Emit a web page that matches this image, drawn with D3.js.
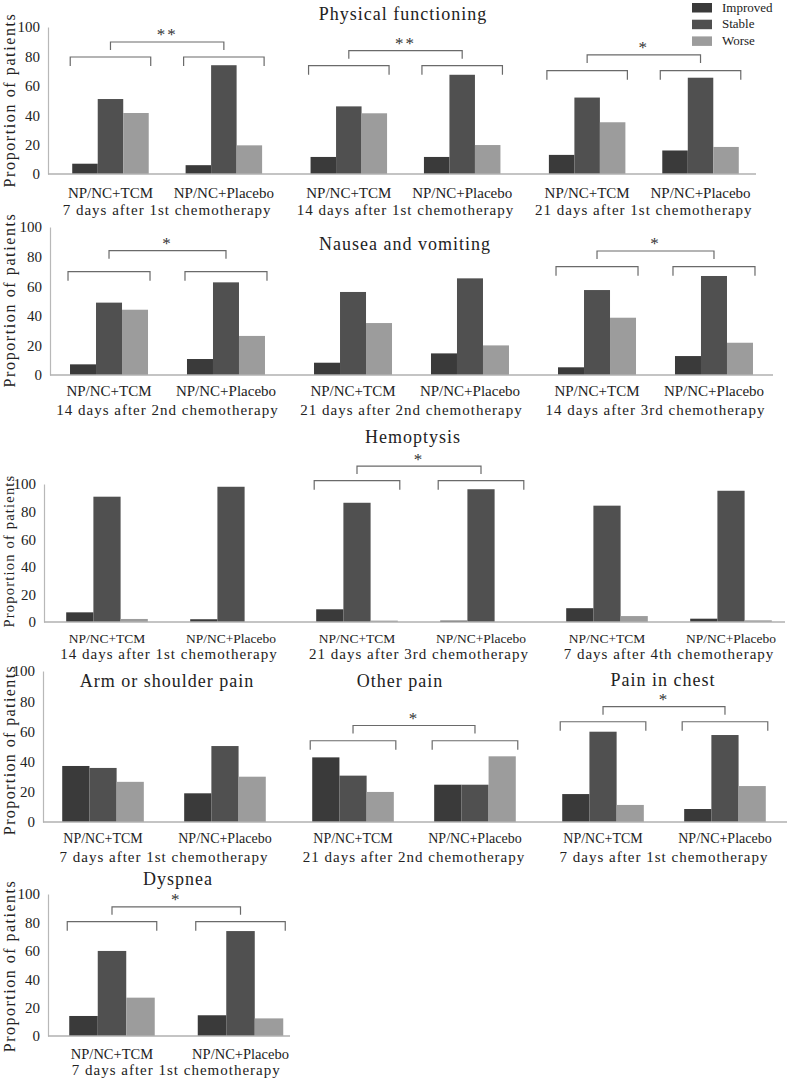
<!DOCTYPE html>
<html><head><meta charset="utf-8">
<script src="https://cdn.jsdelivr.net/npm/d3@7"></script>
<style>
body{margin:0;background:#fff;}
svg{display:block;}
</style></head><body>
<svg id="chart" width="787" height="1078"></svg>
<script>
// ---------- DATA ----------
const series = ["Improved", "Stable", "Worse"];
const groups = ["NP/NC+TCM", "NP/NC+Placebo"];
const yTicks = [0, 20, 40, 60, 80, 100];

// Physical functioning (order: tp1 TCM, tp1 Placebo, tp2 TCM, ...)
const pfTitles = ["Physical functioning"];
const pfTimepoints = ["7 days after 1st chemotherapy", "14 days after 1st chemotherapy", "21 days after 1st chemotherapy"];
const pfImproved = [7, 6, 11.6, 11.6, 13, 16];
const pfStable = [51, 74, 46, 67.5, 52, 65.5];
const pfWorse = [41.5, 19.5, 41.3, 19.7, 35.2, 18.4];
const pfSig = ["**", "**", "*"];

// Nausea and vomiting
const nvTitles = ["Nausea and vomiting"];
const nvTimepoints = ["14 days after 2nd chemotherapy", "21 days after 2nd chemotherapy", "14 days after 3rd chemotherapy"];
const nvImproved = [7.2, 10.8, 8.3, 14.6, 5.2, 12.8];
const nvStable = [48.9, 62.6, 56.1, 65.3, 57.4, 66.9];
const nvWorse = [44.1, 26.4, 35.1, 20, 38.7, 21.8];
const nvSig = ["*", "*"];

// Hemoptysis
const hmTitles = ["Hemoptysis"];
const hmTimepoints = ["14 days after 1st chemotherapy", "21 days after 3rd chemotherapy", "7 days after 4th chemotherapy"];
const hmImproved = [7, 2, 9.2, 1, 10, 2.4];
const hmStable = [90.8, 98, 86.4, 96.2, 84.3, 95.1];
const hmWorse = [2.2, 0, 1, 0, 4.3, 1.2];
const hmSig = ["*"];

// Pain panels
const painTitles = ["Arm or shoulder pain", "Other pain", "Pain in chest"];
const painTimepoints = ["7 days after 1st chemotherapy", "21 days after 2nd chemotherapy", "7 days after 1st chemotherapy"];
const painImproved = [37.1, 19, 42.8, 24.7, 18.5, 8.6];
const painStable = [35.8, 50.3, 30.7, 24.7, 59.8, 57.6];
const painWorse = [26.6, 30, 19.9, 43.5, 11.3, 23.8];
const painSig = ["*", "*"];

// Dyspnea
const dyTitles = ["Dyspnea"];
const dyTimepoints = ["7 days after 1st chemotherapy"];
const dyImproved = [14.1, 14.6];
const dyStable = [59.9, 73.9];
const dyWorse = [27, 12.4];
const dySig = ["*"];

const yLabel = "Proportion of patients";

// ---------- STYLE / LAYOUT ----------
const colors = {Improved: "#3a3a3a", Stable: "#505050", Worse: "#9c9c9c"};
const FONT = "'Liberation Serif','Times New Roman',serif";

const panels = [
  {titles: pfTitles, timepoints: pfTimepoints, improved: pfImproved, stable: pfStable, worse: pfWorse, sig: pfSig,
   L: {x0: 48, x1: 763, pad: 0.551, barW: 25.5, y0: 174, y100: 27, axisX: 48, baseEnd: 756,
       catDy: 24, tpDy: 41, catSize: 15, titlePos: [[403, 20]], ylSize: 16, ylSp: 1.6, ylC: 100,
       brackets: [{tp: 0, low: 79.6, high: 89.8}, {tp: 1, low: 73.7, high: 83.9}, {tp: 2, low: 70.3, high: 81}]}},
  {titles: nvTitles, timepoints: nvTimepoints, improved: nvImproved, stable: nvStable, worse: nvWorse, sig: nvSig,
   L: {x0: 45.5, x1: 777.5, pad: 0.543, barW: 26, y0: 375, y100: 227, axisX: 50, baseEnd: 773,
       catDy: 21, tpDy: 40, catSize: 15, titlePos: [[405, 250]], ylSize: 16, ylSp: 1.6, ylC: 300,
       brackets: [{tp: 0, low: 69.8, high: 84}, {tp: 2, low: 73.2, high: 83.8}]}},
  {titles: hmTitles, timepoints: hmTimepoints, improved: hmImproved, stable: hmStable, worse: hmWorse, sig: hmSig,
   L: {x0: 44, x1: 794, pad: 0.508, barW: 27.2, y0: 622, y100: 484, axisX: 44, baseEnd: 785,
       catDy: 21, tpDy: 37, catSize: 13.5, titlePos: [[413, 443]], ylSize: 14.5, ylSp: 1.2, ylC: 551,
       brackets: [{tp: 1, low: 102.4, high: 113}]}},
  {titles: painTitles, timepoints: painTimepoints, improved: painImproved, stable: painStable, worse: painWorse, sig: painSig,
   L: {x0: 39, x1: 789, pad: 0.525, barW: 27.2, y0: 822, y100: 671, axisX: 43, baseEnd: 787,
       catDy: 21, tpDy: 40, catSize: 14, titlePos: [[167, 687], [400, 687], [663, 686]], ylSize: 16, ylSp: 1.4, ylC: 750,
       brackets: [{tp: 1, low: 53.8, high: 63.9}, {tp: 2, low: 66.4, high: 76.4}]}},
  {titles: dyTitles, timepoints: dyTimepoints, improved: dyImproved, stable: dyStable, worse: dyWorse, sig: dySig,
   L: {x0: 48, x1: 304.5, pad: 0.498, barW: 28.5, y0: 1036, y100: 894, axisX: 48, baseEnd: 290,
       catDy: 23, tpDy: 38.5, catSize: 14.5, titlePos: [[178, 885]], ylSize: 16, ylSp: 1.5, ylC: 966,
       brackets: [{tp: 0, low: 80.5, high: 91}]}}
];

const svg = d3.select("#chart").attr("font-family", FONT);

function drawPanel(p) {
  const L = p.L;
  const g = svg.append("g");
  const y = d3.scaleLinear().domain([0, 100]).range([L.y0, L.y100]);
  const xOuter = d3.scaleBand().domain(p.timepoints.map((d, i) => i)).range([L.x0, L.x1]).padding(0);
  const xInner = d3.scalePoint().domain(groups).range([0, xOuter.bandwidth()]).padding(L.pad);
  const xBar = d3.scaleBand().domain(series).range([-1.5 * L.barW, 1.5 * L.barW]).padding(0);

  const rows = [];
  p.timepoints.forEach((tp, ti) => groups.forEach((gr, gi) => {
    const k = ti * 2 + gi;
    rows.push({ti, gr, cx: xOuter(ti) + xInner(gr),
      vals: [p.improved[k], p.stable[k], p.worse[k]]});
  }));

  // y axis
  const ax = g.append("g").attr("transform", `translate(${L.axisX},0)`)
    .call(d3.axisLeft(y).tickValues(yTicks).tickSize(0).tickPadding(8).tickSizeOuter(0));
  ax.attr("font-family", FONT).attr("font-size", 15);
  ax.select(".domain").attr("stroke", "#b8b8b8").attr("stroke-width", 1.2);
  ax.selectAll("text").attr("fill", "#222");

  // y label
  g.append("text")
    .attr("transform", `translate(9,${L.ylC}) rotate(-90)`)
    .attr("dy", "0.35em")
    .attr("text-anchor", "middle").attr("font-size", L.ylSize).attr("letter-spacing", L.ylSp)
    .attr("fill", "#222").text(yLabel);

  // bars
  const rg = g.selectAll("g.row").data(rows).join("g").attr("class", "row")
    .attr("transform", d => `translate(${d.cx},0)`);
  rg.selectAll("rect").data(d => d.vals.map((v, i) => ({s: series[i], v})))
    .join("rect")
    .attr("x", d => xBar(d.s)).attr("width", xBar.bandwidth())
    .attr("y", d => y(d.v)).attr("height", d => y(0) - y(d.v))
    .attr("fill", d => colors[d.s]);

  // baseline
  g.append("line").attr("x1", L.axisX).attr("x2", L.baseEnd)
    .attr("y1", y(0)).attr("y2", y(0)).attr("stroke", "#b0b0b0").attr("stroke-width", 1.5);

  // category labels
  g.selectAll("text.cat").data(rows).join("text").attr("class", "cat")
    .attr("x", d => d.cx).attr("y", L.y0 + L.catDy).attr("text-anchor", "middle")
    .attr("font-size", L.catSize).attr("fill", "#222").text(d => d.gr);
  g.selectAll("text.tp").data(p.timepoints).join("text").attr("class", "tp")
    .attr("x", (d, i) => xOuter(i) + xOuter.bandwidth() / 2).attr("y", L.y0 + L.tpDy)
    .attr("text-anchor", "middle").attr("font-size", 15).attr("letter-spacing", 1)
    .attr("fill", "#222").text(d => d);

  // titles
  p.titles.forEach((t, i) => {
    g.append("text").attr("x", L.titlePos[i][0]).attr("y", L.titlePos[i][1])
      .attr("text-anchor", "middle").attr("font-size", 18).attr("letter-spacing", 1)
      .attr("fill", "#222").text(t);
  });

  // significance brackets
  L.brackets.forEach((b, bi) => {
    const pair = rows.filter(r => r.ti === b.tp);
    const yl = y(b.low), yh = y(b.high);
    pair.forEach(r => {
      const l = r.cx - 1.5 * L.barW - 2, rr = r.cx + 1.5 * L.barW + 2;
      g.append("path").attr("d", `M${l},${yl + 9}V${yl}H${rr}V${yl + 9}`)
        .attr("fill", "none").attr("stroke", "#6a6a6a").attr("stroke-width", 1.2);
    });
    g.append("path").attr("d", `M${pair[0].cx},${yh + 8}V${yh}H${pair[1].cx}V${yh + 8}`)
      .attr("fill", "none").attr("stroke", "#6a6a6a").attr("stroke-width", 1.2);
    g.append("text").attr("x", (pair[0].cx + pair[1].cx) / 2).attr("y", yh - 1.5)
      .attr("text-anchor", "middle").attr("font-size", 17).attr("letter-spacing", 2)
      .attr("fill", "#333").text(p.sig[bi]);
  });
}

panels.forEach(drawPanel);

// legend
const lg = svg.append("g").attr("transform", "translate(692,3)");
const li = lg.selectAll("g").data(series).join("g").attr("transform", (d, i) => `translate(0,${i * 16.7})`);
li.append("rect").attr("width", 20).attr("height", 9.5).attr("fill", d => colors[d]);
li.append("text").attr("x", 30).attr("y", 8.6).attr("font-size", 13).attr("fill", "#222").text(d => d);
</script>
</body></html>
